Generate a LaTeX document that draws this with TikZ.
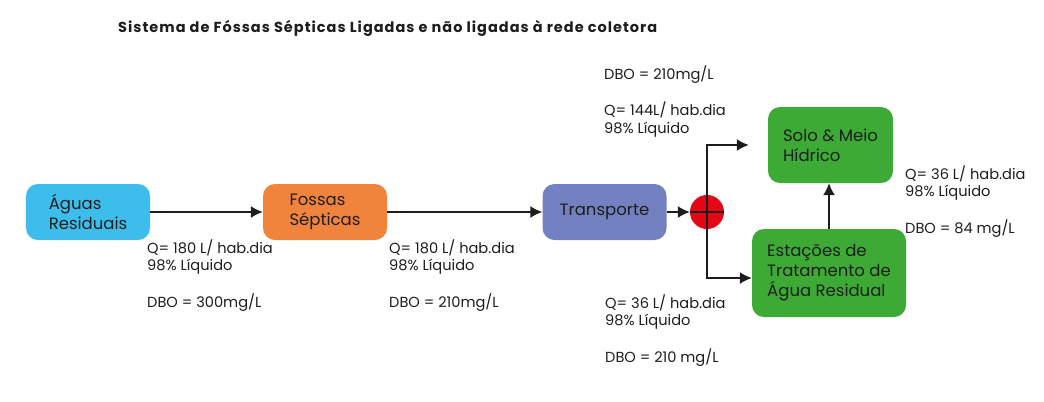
\documentclass[tikz,border=0pt]{standalone}
\usepackage{fontspec}
\setmainfont{Poppins}
\usepackage{xcolor}
\usetikzlibrary{shapes,positioning,arrows,arrows.meta,calc}
\definecolor{txt}{HTML}{1D1D1B}
\definecolor{agua}{HTML}{3DBDEC}
\definecolor{fossa}{HTML}{F0843C}
\definecolor{transp}{HTML}{7381C0}
\definecolor{junc}{HTML}{E30613}
\definecolor{verde}{HTML}{3DAA35}

\begin{document}
\begin{tikzpicture}[x=1bp, y=-1bp, font=\fontsize{14.6bp}{17.5bp}\selectfont, text=txt,
  box/.style={rounded corners=12bp, minimum width=124bp, minimum height=56bp, align=left,
    inner sep=0pt, font=\fontsize{16.5bp}{20bp}\selectfont},
  flow/.style={-{Latex[length=12bp,width=12bp]}, line width=1.6bp, draw=txt},
  info/.style={anchor=base west, align=left, inner sep=0pt}]
\useasboundingbox (0,0) rectangle (1044,401);
\node[anchor=base west, inner sep=0pt,
  font=\fontsize{14.5bp}{17bp}\selectfont\bfseries\addfontfeatures{LetterSpace=7}] (title) at (118,32)
  {Sistema de Fóssas Sépticas Ligadas e não ligadas à rede coletora};

\node[box, fill=agua] (aguas) at (88,212) {Águas\\Residuais};
\node[box, fill=fossa] (fossas) at (325,212) {Fossas\\Sépticas};
\node[box, fill=transp] (transp) at (604.5,212) {Transporte};
\node[circle, fill=junc, minimum size=34bp, inner sep=0pt] (jn) at (707,212) {};
\node[box, fill=verde, minimum width=125bp, minimum height=76bp] (solo) at (830.5,145) {Solo \& Meio\\Hídrico};
\node[box, fill=verde, minimum width=154bp, minimum height=88bp] (ete) at (829,273) {Estações de\\Tratamento de\\Água Residual};

% base = last line
\node[info] (q1) at (147,307) {Q= 180 L/ hab.dia\\98\% Líquido\\[17.5bp]DBO = 300mg/L};
\node[info] (q2) at (389,307) {Q= 180 L/ hab.dia\\98\% Líquido\\[17.5bp]DBO = 210mg/L};
\node[info] (q3) at (604,133) {DBO = 210mg/L\\[17.5bp]Q= 144L/ hab.dia\\98\% Líquido};
\node[info] (q4) at (605,362) {Q= 36 L/ hab.dia\\98\% Líquido\\[17.5bp]DBO = 210 mg/L};
\node[info] (q5) at (905,233) {Q= 36 L/ hab.dia\\98\% Líquido\\[17.5bp]DBO = 84 mg/L};

\draw[flow] (aguas) -- (fossas);
\draw[flow] (fossas) -- (transp);
\draw[flow] (transp) -- (jn);
\draw[line width=1.6bp, draw=txt] (jn.west) -- (jn.east);
\draw[flow, shorten >=19bp] (jn.center) |- (solo.west);
\draw[flow] (jn.center) |- ([yshift=-5bp]ete.west);
\draw[flow] (ete.north) -- (ete.north |- solo.south);
\end{tikzpicture}
\end{document}
